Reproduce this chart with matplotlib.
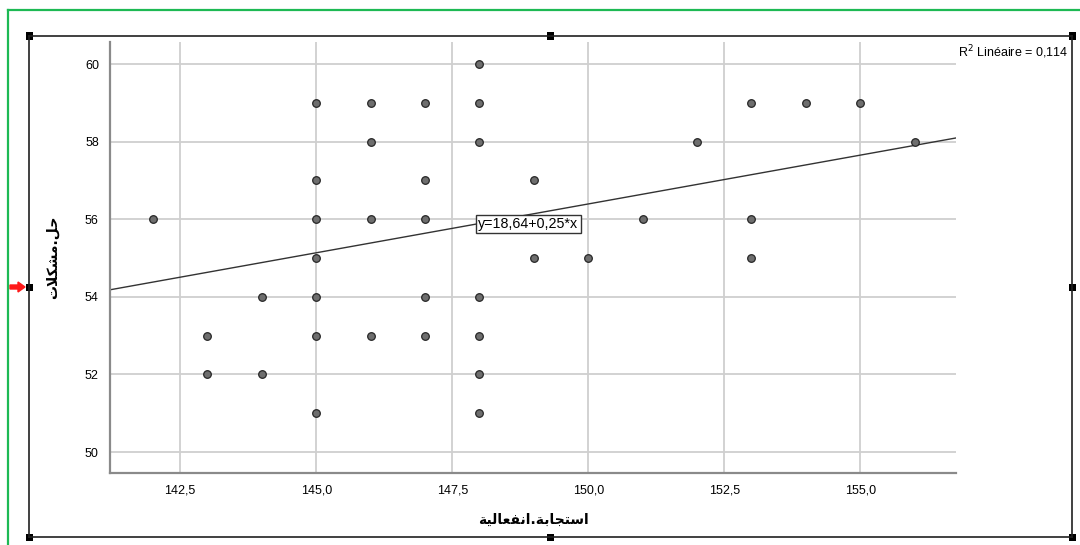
import numpy as np
import matplotlib
matplotlib.use("Agg")
import matplotlib.pyplot as plt
from matplotlib.lines import Line2D
from matplotlib.patches import Rectangle, FancyArrow

# ---- data ----
x_vals = [142,
          143, 143,
          144, 144,
          145, 145, 145, 145, 145, 145, 145,
          146, 146, 146, 146,
          147, 147, 147, 147, 147,
          148, 148, 148, 148, 148, 148, 148,
          149, 149,
          150,
          151,
          152,
          153, 153, 153,
          154,
          155,
          156]
y_vals = [56,
          53, 52,
          54, 52,
          59, 57, 56, 55, 54, 53, 51,
          59, 58, 56, 53,
          59, 57, 56, 54, 53,
          60, 59, 58, 54, 53, 52, 51,
          57, 55,
          55,
          56,
          58,
          59, 56, 55,
          59,
          59,
          58]
x_ticks = [142.5, 145.0, 147.5, 150.0, 152.5, 155.0]
x_tick_labels = ["142,5", "145,0", "147,5", "150,0", "152,5", "155,0"]
y_ticks = [50, 52, 54, 56, 58, 60]
y_tick_labels = ["50", "52", "54", "56", "58", "60"]
fit_intercept = 18.64
fit_slope = 0.2517
equation_label = "y=18,64+0,25*x"
r2_label = "R$^2$ Linéaire = 0,114"
# Arabic labels (presentation forms, visual order) for: استجابة.انفعالية / حل.مشكلات
x_label = "\uFE94\uFEF4\uFEDF\uFE8E\uFECC\uFED4\uFEE7\uFE8D.\uFE94\uFE91\uFE8E\uFEA0\uFE98\uFEB3\uFE8D"
y_label = "\uFE95\uFEFC\uFEDC\uFEB8\uFEE3.\uFEDE\uFEA3"

W, H = 1080, 545
fig = plt.figure(figsize=(W / 100, H / 100), dpi=100)
fig.patch.set_facecolor("white")

def px(x, y):
    return x / W, 1 - y / H

ax = fig.add_axes([110 / W, 1 - 473 / H, (956 - 110) / W, (473 - 42) / H])
xmin, xmax = 141.21, 156.76
ax.set_xlim(xmin, xmax)
ax.set_ylim(49.46, 60.57)

ax.set_xticks(x_ticks)
ax.set_xticklabels(x_tick_labels, fontfamily="Liberation Sans", fontsize=9)
ax.set_yticks(y_ticks)
ax.set_yticklabels(y_tick_labels, fontfamily="Liberation Sans", fontsize=9)
ax.tick_params(length=0, pad=8)
ax.grid(True, color="#cfcfcf", lw=1.3, zorder=0)
ax.set_axisbelow(True)
for s in ["top", "right"]:
    ax.spines[s].set_visible(False)
for s in ["left", "bottom"]:
    ax.spines[s].set_color("#8a8a8a")
    ax.spines[s].set_linewidth(1.6)

xs = np.array([xmin, xmax])
ax.plot(xs, fit_intercept + fit_slope * xs, color="#333333", lw=1.0, zorder=2)

ax.scatter(x_vals, y_vals, s=30, facecolor="#6e6e6e", edgecolor="#262626",
           linewidths=0.9, zorder=3)

ax.text(147.98, 55.88, equation_label, fontfamily="Liberation Sans", fontsize=10.3,
        ha="left", va="center", zorder=4,
        bbox=dict(boxstyle="square,pad=0.15", facecolor="white", edgecolor="#333333", lw=1.0))

ax.set_xlabel(x_label, fontfamily="DejaVu Sans", fontsize=10, fontweight="bold", labelpad=12)
ax.set_ylabel(y_label, fontfamily="DejaVu Sans", fontsize=10, fontweight="bold", labelpad=18)

fig.text(*px(1068, 52), r2_label, fontfamily="Liberation Sans", fontsize=9,
         ha="right", va="center")

# ---- outer decorations (editor frame) ----
green = "#1db954"
fig.add_artist(Line2D([8 / W, 8 / W], [0, 1 - 10 / H], transform=fig.transFigure, color=green, lw=1.6))
fig.add_artist(Line2D([8 / W, 1], [1 - 10 / H, 1 - 10 / H], transform=fig.transFigure, color=green, lw=1.6))

fl, fr, ft, fb = 29, 1072, 36, 537
for (x0, y0, x1, y1) in [(fl, ft, fr, ft), (fl, fb, fr, fb), (fl, ft, fl, fb), (fr, ft, fr, fb)]:
    a, b = px(x0, y0)
    c, d = px(x1, y1)
    fig.add_artist(Line2D([a, c], [b, d], transform=fig.transFigure, color="#202020", lw=1.2))
hs = 7
for (hx, hy) in [(fl, ft), (550, ft), (fr, ft), (fl, 287), (fr, 287), (fl, fb), (550, fb), (fr, fb)]:
    a, b = px(hx - hs / 2, hy + hs / 2)
    fig.add_artist(Rectangle((a, b), hs / W, hs / H, transform=fig.transFigure,
                             facecolor="black", edgecolor="none"))
a, b = px(10, 287)
fig.add_artist(FancyArrow(a, b, 15 / W, 0, width=4 / H, head_width=10 / H, head_length=7 / W,
                          length_includes_head=True, transform=fig.transFigure,
                          color="#ff1a1a"))

fig.savefig("out.png", dpi=100)
